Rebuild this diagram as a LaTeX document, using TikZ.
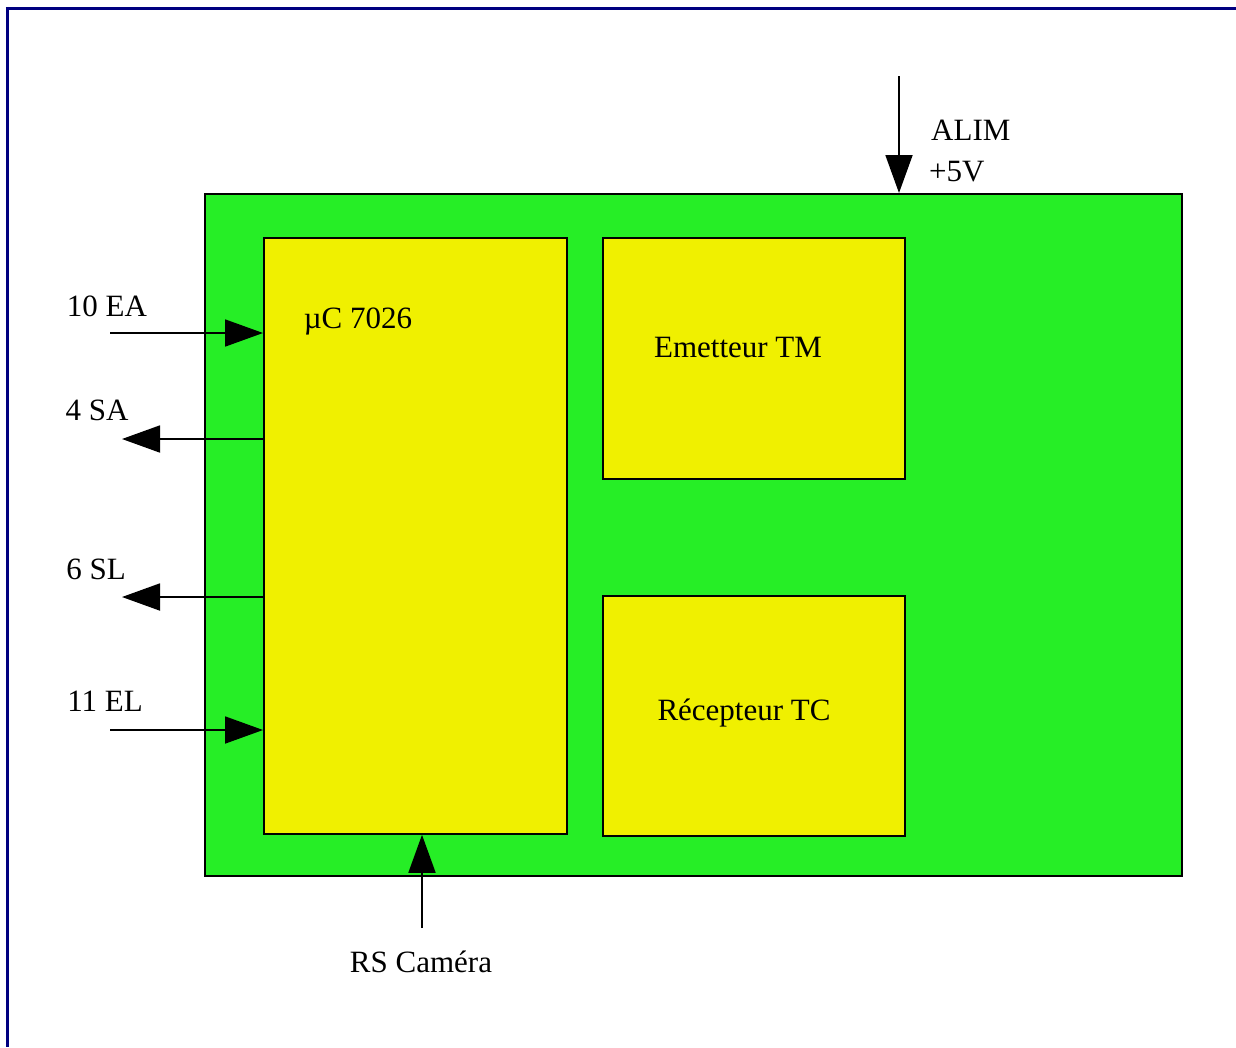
\documentclass[tikz,border=0pt]{standalone}
\usepackage{fontspec}
\setmainfont{Liberation Serif}
\usetikzlibrary{arrows.meta}
\definecolor{framecol}{RGB}{0,0,128}
\definecolor{boardgreen}{RGB}{38,238,38}
\definecolor{chipyellow}{RGB}{240,240,0}
\begin{document}
\begin{tikzpicture}[x=1pt,y=-1pt,
  board/.style={draw=black,line width=1.8pt,fill=boardgreen,inner sep=0pt,minimum width=977pt,minimum height=682pt,anchor=north west},
  chip/.style={draw=black,line width=1.8pt,fill=chipyellow,inner sep=0pt,anchor=north west},
  lbl/.style={font=\fontsize{31}{35}\selectfont,inner sep=0pt},
  arr/.style={draw=black,line width=1.8pt,-{Triangle[length=38pt,width=27pt]}}]
\useasboundingbox (0,0) rectangle (1236,1047);
\fill[white] (0,0) rectangle (1236,1047);
% frame
\draw[framecol,line width=3.5pt] (5.75,8.5) -- (1236,8.5);
\draw[framecol,line width=3.5pt] (7.5,6.75) -- (7.5,1047);
% boxes
\node[board] (board) at (204,193) {};
\node[chip,minimum width=303pt,minimum height=596pt] (uc) at (263,237) {};
\node[chip,minimum width=302pt,minimum height=241pt] (tm) at (602,237) {};
\node[chip,minimum width=302pt,minimum height=240pt] (tc) at (602,595) {};
% texts
\node[lbl] (tuc) at (358,321) {µC 7026};
\node[lbl] (ttm) at (738,347) {Emetteur TM};
\node[lbl] (ttc) at (744,713) {Récepteur TC};
\node[lbl] (tea) at (107,306) {10 EA};
\node[lbl] (tsa) at (97,410) {4 SA};
\node[lbl] (tsl) at (96,569) {6 SL};
\node[lbl] (tel) at (105,701) {11 EL};
\node[lbl,anchor=west] (talim) at (931,130) {ALIM};
\node[lbl,anchor=west] (tv) at (929,172) {+5V};
\node[lbl] (tcam) at (421,962) {RS Caméra};
% connector ends
\coordinate (ea) at (110,333);
\coordinate (sa) at (122,439);
\coordinate (sl) at (122,597);
\coordinate (el) at (110,730);
\coordinate (cam) at (422,928);
\coordinate (alim) at (899,76);
% connectors
\draw[arr] (ea) -- (ea -| uc.west);
\draw[arr] (sa -| uc.west) -- (sa);
\draw[arr] (sl -| uc.west) -- (sl);
\draw[arr] (el) -- (el -| uc.west);
\draw[arr] (cam) -- (cam |- uc.south);
\draw[arr] (alim) -- (alim |- board.north);
\end{tikzpicture}
\end{document}
